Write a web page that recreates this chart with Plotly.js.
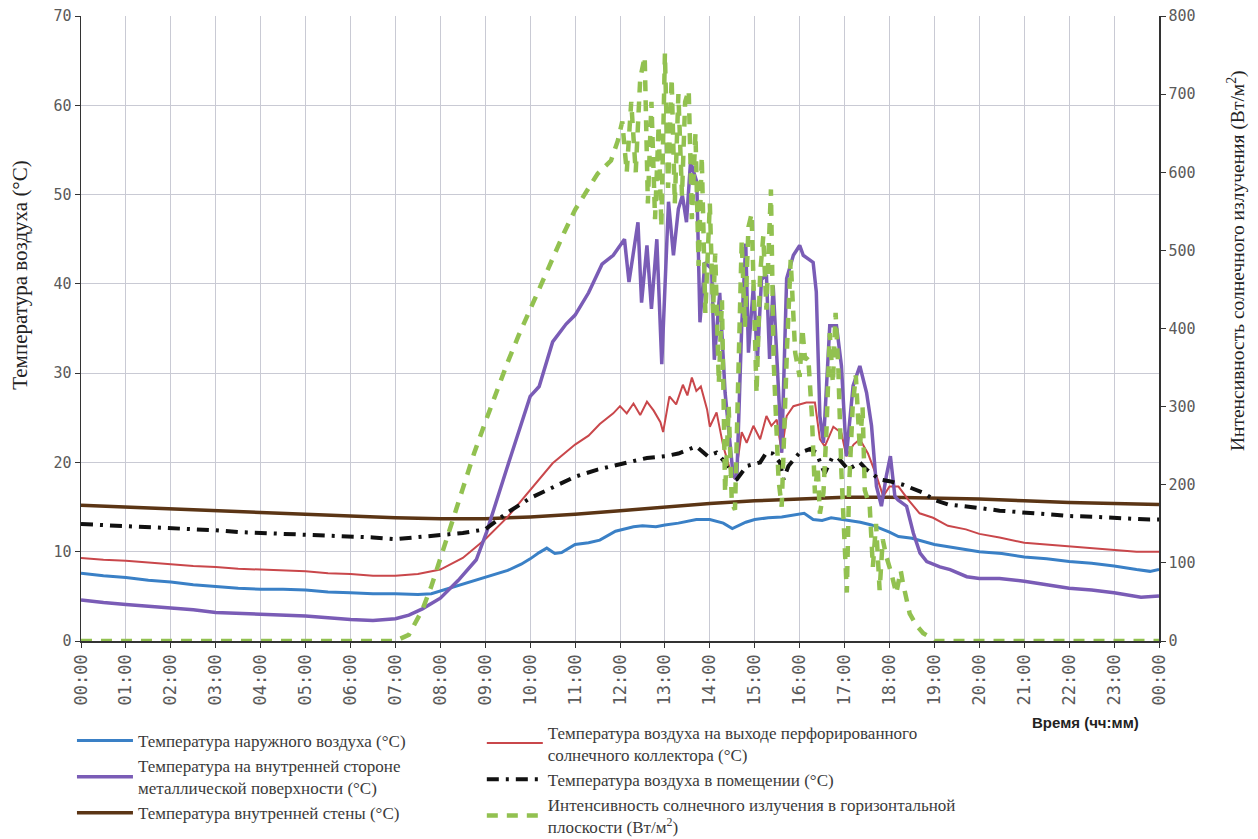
<!DOCTYPE html>
<html>
<head>
<meta charset="utf-8">
<script src="https://cdn.plot.ly/plotly-3.0.1.min.js"></script>
<style>
  html, body { margin: 0; padding: 0; background: #ffffff; }
  #chart { width: 1258px; height: 839px; }
</style>
</head>
<body>
<div id="chart"></div>
<script>
// ---- Tick labels ----
const hourTicks = [0,1,2,3,4,5,6,7,8,9,10,11,12,13,14,15,16,17,18,19,20,21,22,23,24];
const hourLabels = ["00:00","01:00","02:00","03:00","04:00","05:00","06:00","07:00","08:00","09:00","10:00","11:00","12:00","13:00","14:00","15:00","16:00","17:00","18:00","19:00","20:00","21:00","22:00","23:00","00:00"];

// ---- Outdoor air temperature (°C) ----
const hOutdoor = [0,0.5,1,1.5,2,2.5,3,3.5,4,4.5,5,5.5,6,6.5,7,7.5,7.8,8,8.5,9,9.5,9.8,10,10.2,10.37,10.55,10.7,11,11.3,11.55,11.9,12.3,12.5,12.8,13,13.3,13.7,14,14.3,14.5,14.8,15,15.3,15.6,16,16.1,16.3,16.5,16.7,17,17.35,17.6,18,18.2,18.5,19,19.5,20,20.5,21,21.5,22,22.5,23,23.5,23.8,24];
const tOutdoor = [7.6,7.3,7.1,6.8,6.6,6.3,6.1,5.9,5.8,5.8,5.7,5.5,5.4,5.3,5.3,5.2,5.3,5.6,6.4,7.1,7.9,8.6,9.2,9.9,10.4,9.8,9.9,10.8,11.0,11.3,12.3,12.8,12.9,12.8,13.0,13.2,13.6,13.6,13.2,12.6,13.3,13.6,13.8,13.9,14.2,14.3,13.6,13.5,13.8,13.6,13.3,13.0,12.2,11.7,11.5,10.8,10.4,10.0,9.8,9.4,9.2,8.9,8.7,8.4,8.0,7.8,8.0];

// ---- Inner side of metal surface (°C) ----
const hMetal = [0,0.5,1,1.5,2,2.5,3,3.5,4,4.5,5,5.5,6,6.5,7,7.3,7.6,8,8.4,8.8,9.03,9.53,10,10.2,10.5,10.8,11,11.3,11.6,11.85,12.1,12.2,12.4,12.48,12.6,12.7,12.82,12.93,13.08,13.19,13.3,13.39,13.48,13.57,13.71,13.78,13.89,14.04,14.1,14.22,14.34,14.52,14.6,14.71,14.8,14.86,14.97,15.06,15.15,15.26,15.33,15.41,15.5,15.6,15.71,15.86,16,16.08,16.3,16.37,16.45,16.53,16.67,16.82,16.93,17.04,17.19,17.34,17.49,17.6,17.71,17.82,17.93,18.02,18.12,18.19,18.38,18.53,18.68,18.83,19.12,19.35,19.72,20,20.45,21,21.5,22,22.5,23,23.6,24];
const tMetal = [4.6,4.3,4.1,3.9,3.7,3.5,3.2,3.1,3.0,2.9,2.8,2.6,2.4,2.3,2.5,2.9,3.6,4.8,6.8,9.1,12.2,20.1,27.4,28.5,33.5,35.5,36.5,39.0,42.2,43.2,45.0,40.2,46.9,37.9,44.3,37.2,45.0,31.0,49.2,43.2,48.4,49.9,46.9,53.7,51.4,35.7,42.4,41.7,31.5,39.0,27.8,18.5,18.1,35.3,44.5,32.3,39.8,31.6,40.5,41.0,31.6,39.8,30.0,21.1,40.6,43.2,44.3,43.2,42.4,39.1,25.2,22.2,35.3,35.3,30.8,20.7,28.6,30.8,27.8,24.1,17.3,15.1,18.5,20.7,16.2,15.8,15.1,12.1,9.85,8.9,8.3,8.0,7.2,7.0,7.0,6.7,6.3,5.9,5.7,5.4,4.9,5.05];

// ---- Inner wall temperature (°C) ----
const hWall = [0,1,2,3,4,5,6,7,8,9,10,11,12,13,14,15,16,17,18,19,20,21,22,23,24];
const tWall = [15.2,15.0,14.8,14.6,14.4,14.2,14.0,13.8,13.7,13.7,13.9,14.2,14.6,15.0,15.4,15.7,15.9,16.1,16.1,16.0,15.9,15.7,15.5,15.4,15.3];

// ---- Collector outlet air temperature (°C) ----
const hCollector = [0,0.5,1,1.5,2,2.5,3,3.5,4,4.5,5,5.5,6,6.5,7,7.5,8,8.5,9,9.5,10,10.5,11,11.3,11.55,11.85,12,12.15,12.3,12.45,12.6,12.75,12.9,12.96,13.1,13.25,13.4,13.5,13.6,13.7,13.8,13.94,14,14.15,14.3,14.45,14.56,14.71,14.82,14.97,15.12,15.26,15.37,15.49,15.6,15.71,15.86,16,16.15,16.34,16.45,16.56,16.75,16.93,17.04,17.2,17.34,17.52,17.71,17.86,18,18.2,18.42,18.67,18.97,19.3,19.7,20,20.45,21,21.5,22,22.5,23,23.5,24];
const tCollector = [9.3,9.1,9.0,8.8,8.6,8.4,8.3,8.1,8.0,7.9,7.8,7.6,7.5,7.3,7.3,7.5,8.0,9.3,11.4,13.9,16.9,19.9,22.0,23.0,24.3,25.5,26.3,25.5,26.6,25.3,26.8,25.8,24.5,23.4,27.4,26.5,28.7,27.5,29.5,28.0,28.5,25.9,24.0,25.6,21.8,19.2,18.1,23.4,22.2,24.1,22.6,25.2,24.1,24.8,21.1,25.2,26.3,26.5,26.7,26.7,22.6,21.8,24.0,23.3,20.7,22.0,22.6,21.0,18.5,16.2,17.3,17.3,15.8,14.3,13.8,12.9,12.5,12.0,11.6,11.0,10.8,10.6,10.4,10.2,10.0,10.0];

// ---- Indoor air temperature (°C) ----
const hIndoor = [0,0.5,1,1.5,2,2.5,3,3.5,4,4.5,5,5.5,6,6.5,7,7.5,8,8.5,9,9.5,10,10.5,11,11.5,12,12.3,12.6,13,13.3,13.7,13.95,14.15,14.34,14.52,14.6,14.82,15.12,15.26,15.4,15.56,15.64,15.75,16,16.23,16.37,16.49,16.56,16.72,16.86,17.08,17.34,17.49,17.78,18,18.3,18.75,19,19.3,19.7,20,20.45,21,21.5,22,22.6,23.2,23.8,24];
const tIndoor = [13.1,13.0,12.8,12.7,12.6,12.5,12.4,12.2,12.1,12.0,11.9,11.8,11.8,11.6,11.4,11.6,11.8,12.1,12.5,14.4,16.0,17.2,18.4,19.2,19.8,20.2,20.5,20.7,21.0,21.8,20.7,21.1,20.0,17.9,18.1,19.6,20.0,21.1,21.0,20.0,18.1,19.6,21.1,21.5,21.1,19.6,18.8,20.5,20.5,19.2,20.0,19.2,18.1,17.9,17.5,16.6,15.8,15.3,15.1,14.9,14.6,14.4,14.2,14.0,13.9,13.7,13.6,13.6];

// ---- Horizontal solar irradiance (W/m²) ----
const hSolar = [0,1,2,3,4,5,6,7,7.3,7.6,7.8,8,8.25,8.5,8.75,9,9.25,9.5,9.75,10,10.25,10.5,10.75,11,11.25,11.5,11.8,11.95,12.05,12.15,12.25,12.35,12.45,12.55,12.62,12.7,12.78,12.86,12.92,13,13.07,13.15,13.22,13.3,13.38,13.45,13.53,13.6,13.68,13.75,13.82,13.9,14,14.07,14.12,14.2,14.27,14.34,14.42,14.49,14.56,14.64,14.71,14.78,14.86,14.93,15,15.04,15.12,15.19,15.26,15.36,15.42,15.48,15.53,15.6,15.66,15.72,15.8,15.86,15.9,16,16.06,16.12,16.19,16.27,16.34,16.4,16.45,16.53,16.6,16.67,16.74,16.8,16.86,16.93,17,17.05,17.1,17.18,17.25,17.34,17.4,17.45,17.56,17.63,17.7,17.78,17.85,17.93,18.04,18.15,18.25,18.3,18.45,18.6,18.75,18.9,19,20,21,22,23,24];
const qSolar = [0,0,0,0,0,0,0,0,8,40,70,104,150,195,240,280,320,357,392,425,458,490,522,552,575,598,615,640,665,600,690,600,720,748,560,690,540,660,530,752,580,720,560,700,570,690,705,540,650,480,620,420,560,420,496,330,436,190,300,176,168,350,513,402,530,547,420,317,470,518,424,578,360,280,206,172,300,377,488,420,369,338,400,360,364,291,189,224,163,190,274,394,330,420,350,215,138,62,197,300,340,245,300,193,172,95,150,65,130,108,87,61,90,74,35,20,10,5,0,0,0,0,0,0];

const serif = "Liberation Serif, Times New Roman, serif";
const mono = "DejaVu Sans Mono, monospace";
const legFont = {family: serif, size: 17, color: "#3a3a3a"};

const traces = [
  {x: hWall, y: tWall, name: "Температура внутренней стены (°C)", mode: "lines",
   line: {color: "#5b3515", width: 3.5}, legend: "legend", legendrank: 3},
  {x: hOutdoor, y: tOutdoor, name: "Температура наружного воздуха (°C)", mode: "lines",
   line: {color: "#3a80c6", width: 3}, legend: "legend", legendrank: 1},
  {x: hCollector, y: tCollector, name: "Температура воздуха на выходе перфорированного<br>солнечного коллектора (°C)", mode: "lines",
   line: {color: "#c9474b", width: 2}, legend: "legend2", legendrank: 1},
  {x: hMetal, y: tMetal, name: "Температура на внутренней стороне<br>металлической поверхности (°C)", mode: "lines",
   line: {color: "#7a5cb6", width: 3.5}, legend: "legend", legendrank: 2},
  {x: hIndoor, y: tIndoor, name: "Температура воздуха в помещении (°C)", mode: "lines",
   line: {color: "#111111", width: 4, dash: "12px,7px,3px,7px"}, legend: "legend2", legendrank: 2},
  {x: hSolar, y: qSolar, name: "Интенсивность солнечного излучения в горизонтальной<br>плоскости (Вт/м<sup>2</sup>)", mode: "lines",
   yaxis: "y2", line: {color: "#92c150", width: 4.5, dash: "11px,9px"}, legend: "legend2", legendrank: 3}
];

const layout = {
  width: 1258, height: 839,
  margin: {l: 81, r: 99, t: 16, b: 198, autoexpand: false},
  paper_bgcolor: "#ffffff", plot_bgcolor: "#ffffff",
  showlegend: true,
  xaxis: {
    range: [0, 24], tickvals: hourTicks, ticktext: hourLabels, tickangle: -90,
    showgrid: true, gridcolor: "#c9cad4", gridwidth: 1,
    showline: true, linecolor: "#333333", linewidth: 1.5,
    ticks: "outside", ticklen: 5, tickcolor: "#333333",
    tickfont: {family: mono, size: 17, color: "#5a5a5a"},
    zeroline: false, fixedrange: true, automargin: false
  },
  yaxis: {
    range: [0, 70], dtick: 10, tick0: 0,
    showgrid: true, gridcolor: "#c9cad4", gridwidth: 1,
    showline: true, linecolor: "#333333", linewidth: 1.5,
    ticks: "outside", ticklen: 5, tickcolor: "#333333",
    tickfont: {family: mono, size: 15, color: "#5a5a5a"},
    zeroline: false, fixedrange: true, automargin: false
  },
  yaxis2: {
    range: [0, 800], dtick: 100, tick0: 0, overlaying: "y", side: "right",
    showgrid: false, showline: true, linecolor: "#333333", linewidth: 1.5,
    ticks: "outside", ticklen: 5, tickcolor: "#333333",
    tickfont: {family: mono, size: 15, color: "#5a5a5a"},
    zeroline: false, fixedrange: true, automargin: false
  },
  legend: {
    xref: "container", yref: "container",
    x: 0.0572, y: 0.1383, xanchor: "left", yanchor: "top",
    orientation: "v", font: legFont, itemwidth: 56,
    bgcolor: "rgba(0,0,0,0)", tracegroupgap: 0, traceorder: "normal"
  },
  legend2: {
    xref: "container", yref: "container",
    x: 0.383, y: 0.1484, xanchor: "left", yanchor: "top",
    orientation: "v", font: legFont, itemwidth: 56,
    bgcolor: "rgba(0,0,0,0)", tracegroupgap: 0, traceorder: "normal"
  },
  annotations: [
    {text: "Температура воздуха (°C)", xref: "paper", yref: "paper",
     x: -0.0566, y: 0.586, textangle: -90, showarrow: false,
     xanchor: "center", yanchor: "middle",
     font: {family: serif, size: 21, color: "#222222"}},
    {text: "Интенсивность солнечного излучения (Вт/м<sup>2</sup>)", xref: "paper", yref: "paper",
     x: 1.0715, y: 0.608, textangle: -90, showarrow: false,
     xanchor: "center", yanchor: "middle",
     font: {family: serif, size: 19.5, color: "#222222"}},
    {text: "<b>Время (чч:мм)</b>", xref: "paper", yref: "paper",
     x: 0.9314, y: -0.1296, showarrow: false,
     xanchor: "center", yanchor: "middle",
     font: {family: "Liberation Sans, Arial, sans-serif", size: 15, color: "#222222"}}
  ]
};

Plotly.newPlot("chart", traces, layout, {staticPlot: true, displayModeBar: false});
</script>
</body>
</html>
